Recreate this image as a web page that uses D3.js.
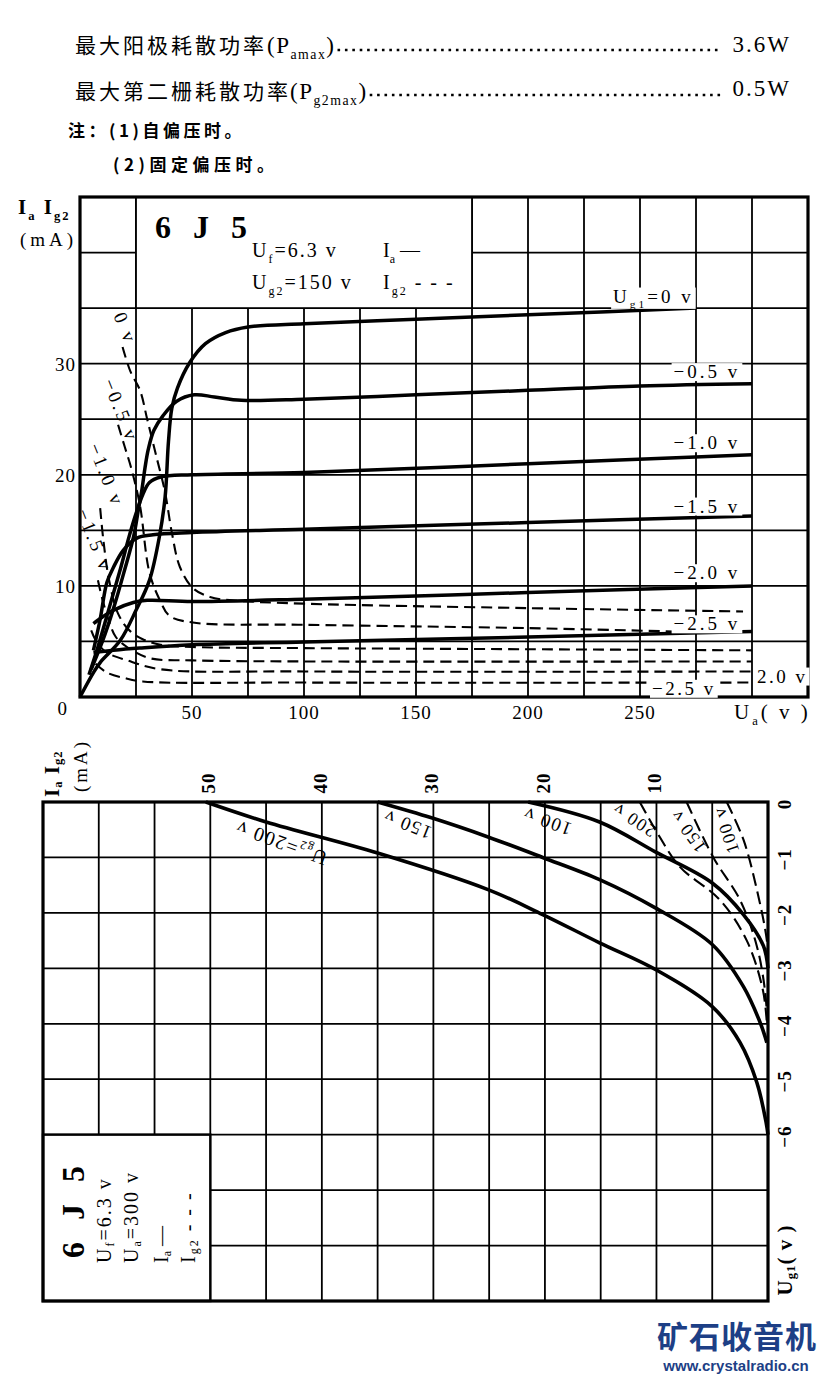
<!DOCTYPE html>
<html>
<head>
<meta charset="utf-8">
<script src="https://cdn.jsdelivr.net/npm/d3@7"></script>
<style>
body { margin: 0; background: #fff; }
</style>
</head>
<body>
<div id="chart"></div>
<script>
// ---- top chart: Ia / Ig2 vs Ua, Ug2 = 150 v ----
var vaTicks = [50, 100, 150, 200, 250];
var iTicks = [10, 20, 30];
var ug1Labels = ["Ug1=0 v", "−0.5 v", "−1.0 v", "−1.5 v", "−2.0 v", "−2.5 v"];

// [Ua (v), Ia (mA)]
var ia0 = [[0,0],[6,2.2],[9,3.1],[18,5.1],[25,7.8],[31,10.5],[35.5,14.5],[38,18],[39.5,23],[41,26],[43.5,27.8],[49,30.1],[56,31.8],[65,32.8],[75,33.3],[100,33.6],[150,34],[200,34.4],[275,35]];
var ia05 = [[5,2.5],[10,5],[15,8],[20,11.5],[24,14.5],[26,16.8],[27.6,18.6],[29,20.6],[30.5,22.3],[33,24],[37,25.3],[43,26.6],[51,27.2],[60,27],[72,26.7],[100,26.8],[150,27.2],[200,27.6],[250,28],[300,28.2]];
var ia10 = [[4,2],[8,4.5],[13,8],[18,11.5],[22,14.5],[25,16.5],[28,18.2],[31,19.3],[36,19.8],[50,20],[100,20.2],[200,21],[300,21.8]];
var ia15 = [[6,4.2],[9,7],[12,10.3],[15,11.7],[19.3,13.2],[25.4,14.3],[32.6,14.6],[50,14.8],[100,15.1],[200,15.7],[300,16.3]];
var ia20 = [[6,6.6],[10,7.2],[14.8,7.8],[23.8,8.5],[30,8.7],[50,8.6],[100,8.8],[200,9.4],[300,10]];
var ia25 = [[6,4],[14.9,4.2],[26.7,4.4],[50,4.7],[100,4.95],[200,5.4],[300,5.9]];

// [Ua (v), Ig2 (mA)]
var ig0 = [[19,31.5],[22.5,29.3],[26.8,27.6],[30,25],[34.4,21.4],[38,18.4],[41,14.8],[44.6,11.7],[50.4,9.8],[58,9.0],[68,8.7],[100,8.4],[200,8.0],[296,7.7]];
var ig05 = [[17,24.5],[20,22.5],[23,20.5],[26.8,17.2],[31,11.2],[35.7,8.7],[40,7.3],[50.4,6.7],[100,6.5],[200,6.2],[265,5.9]];
var ig10 = [[9,17],[10.5,14],[13,10.5],[17,7.5],[22,6],[28,5.2],[36,4.7],[50,4.5],[100,4.4],[200,4.3],[300,4.2]];
var ig15 = [[8,10.5],[10,8.8],[13,6.8],[16,5.4],[21,4.5],[31,3.5],[50,3.3],[100,3.2],[300,3.2]];
var ig20 = [[5,6],[7.6,4.9],[12,4],[21,3.3],[35.7,2.5],[100,2.3],[300,2.3]];
var ig25 = [[7,3],[12,2.2],[20,1.7],[28,1.4],[100,1.3],[300,1.3]];

// ---- bottom chart: Ia / Ig2 vs Ug1, Ua = 300 v ----
var mATicks = [50, 40, 30, 20, 10];
var ug1Ticks = [0, -1, -2, -3, -4, -5, -6];
var ug2Labels = ["200 v", "150 v", "100 v"];

// [Ug1 (v), I (mA)]
var ia200 = [[0,50.4],[-0.36,45],[-0.92,35],[-1.58,25.1],[-2.03,20.2],[-2.54,15.1],[-3.02,10.1],[-3.69,5.0],[-4.34,2.5],[-5.06,1.0],[-5.8,0.15],[-6,0]];
var ia150 = [[0,35],[-0.29,30.1],[-0.63,25.1],[-1.0,20.2],[-1.4,15.1],[-1.91,10.1],[-2.57,5.0],[-3.33,2.2],[-3.98,0.7],[-4.34,0.1]];
var ia100 = [[0,21.5],[-0.36,15.1],[-0.9,10.1],[-1.46,5.0],[-2.03,2.2],[-2.6,0.4],[-3.0,0]];
var ig200 = [[0,11.5],[-0.6,9.8],[-1.17,7.9],[-1.77,4.3],[-2.5,1.9],[-3.4,0.45],[-4.0,0.1]];
var ig150 = [[0,7.3],[-1.0,4.9],[-1.77,2.5],[-2.6,1.0],[-3.4,0.27],[-4.0,0.05]];
var ig100 = [[0,3.7],[-0.68,2.2],[-1.58,1.0],[-2.5,0.1],[-2.9,0]];

var SERIF = "'Liberation Serif','DejaVu Serif',serif",
    CJK = "'Noto Sans CJK SC',sans-serif";

var svg = d3.select("#chart").append("svg")
    .attr("width", 824)
    .attr("height", 1378)
    .style("background", "#fff");

// text with sub-scripted parts: parts = [[text, isSub], ...]
function rich(text, parts, fs) {
    var shifted = 0;
    parts.forEach(function(p) {
        var d = p[1] ? fs * 0.28 : 0;
        text.append("tspan")
            .attr("dy", d - shifted)
            .attr("font-size", p[1] ? fs * 0.6 : fs)
            .text(p[0]);
        shifted = d;
    });
    return text;
}

function addText(g, x, y, parts, fs, opts) {
    opts = opts || {};
    var t = g.append("text")
        .attr("x", x).attr("y", y)
        .attr("font-family", opts.family || SERIF)
        .attr("font-weight", opts.weight || "normal")
        .attr("letter-spacing", opts.spacing || 0)
        .attr("text-anchor", opts.anchor || "start")
        .attr("fill", opts.fill || "#000");
    if (opts.transform) t.attr("transform", opts.transform);
    return rich(t, parts, fs);
}

function whiteBack(g, t, pad) {
    var b = t.node().getBBox();
    g.insert("rect", function() { return t.node(); })
        .attr("x", b.x - pad).attr("y", b.y + 2)
        .attr("width", b.width + 2 * pad).attr("height", b.height - 3)
        .attr("fill", "#fff");
}

// ---------- header text ----------
var head = svg.append("g");
function leader(y, x1, x2) {
    head.append("line")
        .attr("x1", x1).attr("x2", x2).attr("y1", y).attr("y2", y)
        .attr("stroke", "#000").attr("stroke-width", 2.6)
        .attr("stroke-dasharray", "2.6,4.8");
}
addText(head, 75, 53, [["最大阳极耗散功率", false]], 21, {family: CJK, spacing: 3});
var p1 = addText(head, 267, 53, [["(P", false], ["amax", true], [")", false]], 23, {spacing: 1.5});
addText(head, 791, 52, [["3.6W", false]], 23, {anchor: "end", spacing: 2});
addText(head, 75, 99, [["最大第二栅耗散功率", false]], 21, {family: CJK, spacing: 3});
var p2 = addText(head, 290, 99, [["(P", false], ["g2max", true], [")", false]], 23, {spacing: 1.5});
addText(head, 791, 96, [["0.5W", false]], 23, {anchor: "end", spacing: 2});
var b1 = p1.node().getBBox(), b2 = p2.node().getBBox();
leader(50, b1.x + b1.width + 2, 718);
leader(95, b2.x + b2.width + 2, 724);
addText(head, 68, 137, [["注：(1)自偏压时。", false]], 17, {family: CJK, weight: "bold", spacing: 3.5});
addText(head, 113, 171, [["(2)固定偏压时。", false]], 17, {family: CJK, weight: "bold", spacing: 4.5});

// ---------- top chart ----------
var xA = d3.scaleLinear().domain([0, 325]).range([80, 808]);
var yA = d3.scaleLinear().domain([0, 45]).range([697, 197]);
var gA = svg.append("g");

d3.range(25, 325, 25).forEach(function(v) {
    gA.append("line").attr("x1", xA(v)).attr("x2", xA(v))
        .attr("y1", yA(0)).attr("y2", yA(45))
        .attr("stroke", "#000").attr("stroke-width", 1.8);
});
d3.range(5, 45, 5).forEach(function(v) {
    gA.append("line").attr("x1", xA(0)).attr("x2", xA(325))
        .attr("y1", yA(v)).attr("y2", yA(v))
        .attr("stroke", "#000").attr("stroke-width", 1.8);
});

// legend box
gA.append("rect")
    .attr("x", xA(25)).attr("y", yA(45))
    .attr("width", xA(175) - xA(25)).attr("height", yA(35) - yA(45))
    .attr("fill", "#fff").attr("stroke", "#000").attr("stroke-width", 1.8);

gA.append("rect")
    .attr("x", xA(0)).attr("y", yA(45))
    .attr("width", xA(325) - xA(0)).attr("height", yA(0) - yA(45))
    .attr("fill", "none").attr("stroke", "#000").attr("stroke-width", 3.2);

addText(gA, 155, 238, [["6 J 5", false]], 32, {weight: "bold", spacing: 7});
addText(gA, 252, 257, [["U", false], ["f", true], ["=6.3 v", false]], 20, {spacing: 2});
addText(gA, 383, 257, [["I", false], ["a", true], [" —", false]], 20);
addText(gA, 252, 289, [["U", false], ["g2", true], ["=150 v", false]], 20, {spacing: 2});
addText(gA, 383, 289, [["I", false], ["g2", true], [" - - -", false]], 20, {spacing: 2});

// axis texts
addText(gA, 18, 214, [["I", false], ["a", true], [" I", false], ["g2", true]], 21, {weight: "bold", spacing: 2});
addText(gA, 20, 246, [["(mA)", false]], 19, {spacing: 4});
iTicks.forEach(function(v) {
    addText(gA, 76, yA(v) + 7, [[String(v), false]], 19, {anchor: "end", spacing: 1});
});
addText(gA, 67, 715, [["0", false]], 19, {anchor: "end"});
vaTicks.forEach(function(v) {
    addText(gA, xA(v), 719, [[String(v), false]], 19, {anchor: "middle", spacing: 1});
});
addText(gA, 734, 719, [["U", false], ["a", true], ["( v )", false]], 21, {spacing: 3});

var lineA = d3.line()
    .x(function(d) { return xA(d[0]); })
    .y(function(d) { return yA(d[1]); })
    .curve(d3.curveCatmullRom.alpha(0.5));

[ig0, ig05, ig10, ig15, ig20, ig25].forEach(function(s) {
    gA.append("path").attr("d", lineA(s))
        .attr("fill", "none").attr("stroke", "#000").attr("stroke-width", 2.1)
        .attr("stroke-dasharray", "11,6");
});
[ia0, ia05, ia10, ia15, ia20, ia25].forEach(function(s) {
    gA.append("path").attr("d", lineA(s))
        .attr("fill", "none").attr("stroke", "#000").attr("stroke-width", 3.5)
        .attr("stroke-linejoin", "round");
});

// curve labels (Ia)
var iaLabelPos = [[238, 35.5], [265, 28.7], [265, 22.3], [265, 16.6], [265, 10.6], [265, 6.0]];
ug1Labels.forEach(function(s, i) {
    var parts = i === 0 ? [["U", false], ["g1", true], ["=0 v", false]] : [[s, false]];
    var t = addText(gA, xA(iaLabelPos[i][0]), yA(iaLabelPos[i][1]), parts, 19, {spacing: 3});
    whiteBack(gA, t, 2);
});
// Ig2 labels at the bottom right
var t1 = addText(gA, 757, yA(1.3), [["2.0 v", false]], 19, {spacing: 2.5});
whiteBack(gA, t1, 2);
var t2 = addText(gA, 652, yA(0.2), [["−2.5 v", false]], 19, {spacing: 2.5});
whiteBack(gA, t2, 2);

// rotated Ig2 labels on the left
var igLabelPos = [[20.5, 33.2], [18.5, 25.8], [12, 20], [6.8, 14.1]];
["0 v", "−0.5 v", "−1.0 v", "−1.5 v"].forEach(function(s, i) {
    var px = xA(igLabelPos[i][0]), py = yA(igLabelPos[i][1]);
    var t = addText(gA, 0, 0, [[s, false]], 19, {anchor: "middle", spacing: 3,
        transform: "translate(" + px + "," + py + ") rotate(68)"});
    t.attr("dominant-baseline", "central");
});

// ---------- bottom chart ----------
var xB = d3.scaleLinear().domain([0, 65]).range([768, 43]);
var yB = d3.scaleLinear().domain([0, -9]).range([802, 1301]);
var gB = svg.append("g");

d3.range(5, 65, 5).forEach(function(v) {
    gB.append("line").attr("x1", xB(v)).attr("x2", xB(v))
        .attr("y1", yB(0)).attr("y2", yB(-9))
        .attr("stroke", "#000").attr("stroke-width", 1.8);
});
d3.range(-1, -9, -1).forEach(function(v) {
    gB.append("line").attr("x1", xB(0)).attr("x2", xB(65))
        .attr("y1", yB(v)).attr("y2", yB(v))
        .attr("stroke", "#000").attr("stroke-width", 1.8);
});

gB.append("rect")
    .attr("x", xB(65)).attr("y", yB(-6))
    .attr("width", xB(50) - xB(65)).attr("height", yB(-9) - yB(-6))
    .attr("fill", "#fff").attr("stroke", "#000").attr("stroke-width", 2.4);

gB.append("rect")
    .attr("x", xB(65)).attr("y", yB(0))
    .attr("width", xB(0) - xB(65)).attr("height", yB(-9) - yB(0))
    .attr("fill", "none").attr("stroke", "#000").attr("stroke-width", 3.2);

var lineB = d3.line()
    .x(function(d) { return xB(d[1]); })
    .y(function(d) { return yB(d[0]); })
    .curve(d3.curveCatmullRom.alpha(0.5));

[ig200, ig150, ig100].forEach(function(s) {
    gB.append("path").attr("d", lineB(s))
        .attr("fill", "none").attr("stroke", "#000").attr("stroke-width", 2.1)
        .attr("stroke-dasharray", "13,6");
});
[ia200, ia150, ia100].forEach(function(s) {
    gB.append("path").attr("d", lineB(s))
        .attr("fill", "none").attr("stroke", "#000").attr("stroke-width", 3.6)
        .attr("stroke-linejoin", "round");
});

// upside-down curve labels
function flipLabel(parts, px, py, ang, fs) {
    var t = addText(gB, 0, 0, parts, fs, {anchor: "middle", spacing: 1.5,
        transform: "translate(" + px + "," + py + ") rotate(" + ang + ")"});
    t.attr("dominant-baseline", "central");
    return t;
}
flipLabel([["U", false], ["g2", true], ["=" + ug2Labels[0], false]], 281, 843, 200, 20);
flipLabel([[ug2Labels[1], false]], 407, 825, 202, 19);
flipLabel([[ug2Labels[2], false]], 547, 822, 200, 19);
flipLabel([[ug2Labels[0], false]], 634, 820, 213, 18);
flipLabel([[ug2Labels[1], false]], 688, 831, 234, 18);
flipLabel([[ug2Labels[2], false]], 726, 830, 251, 18);

// axis labels (rotated)
function vText(parts, px, py, fs, opts) {
    opts = opts || {};
    var t = addText(gB, 0, 0, parts, fs, {anchor: opts.anchor || "middle", weight: opts.weight,
        spacing: opts.spacing || 0,
        transform: "translate(" + px + "," + py + ") rotate(-90)"});
    t.attr("dominant-baseline", "central");
    return t;
}
mATicks.forEach(function(v) {
    vText([[String(v), false]], xB(v) - 2, 783, 19, {weight: "bold", spacing: 1});
});
ug1Ticks.forEach(function(v) {
    vText([[v === 0 ? "0" : "−" + Math.abs(v), false]], 784, yB(v) + 2, 19, {weight: "bold", spacing: 1});
});
vText([["U", false], ["g1", true], ["( v )", false]], 785, 1260, 21, {weight: "bold", spacing: 1});
vText([["I", false], ["a", true], [" I", false], ["g2", true]], 52, 797, 21, {anchor: "start", weight: "bold", spacing: 1});
vText([["(mA)", false]], 80, 792, 19, {anchor: "start", spacing: 3});

// legend inside bottom chart
vText([["6 J 5", false]], 73, 1258, 32, {anchor: "start", weight: "bold", spacing: 7});
vText([["U", false], ["f", true], ["=6.3 v", false]], 104, 1263, 20, {anchor: "start", spacing: 2});
vText([["U", false], ["a", true], ["=300 v", false]], 131, 1263, 20, {anchor: "start", spacing: 2});
vText([["I", false], ["a", true], [" —", false]], 161, 1263, 20, {anchor: "start"});
vText([["I", false], ["g2", true], [" - - -", false]], 188, 1263, 20, {anchor: "start", spacing: 2});

// ---------- watermark ----------
addText(svg, 737, 1348, [["矿石收音机", false]], 31, {family: CJK, weight: "bold", anchor: "middle", fill: "#1d3f86", spacing: 1});
addText(svg, 736, 1371, [["www.crystalradio.cn", false]], 15, {family: "'Liberation Sans',Arial,sans-serif", weight: "bold", anchor: "middle", fill: "#1d3f86"});
</script>
</body>
</html>
